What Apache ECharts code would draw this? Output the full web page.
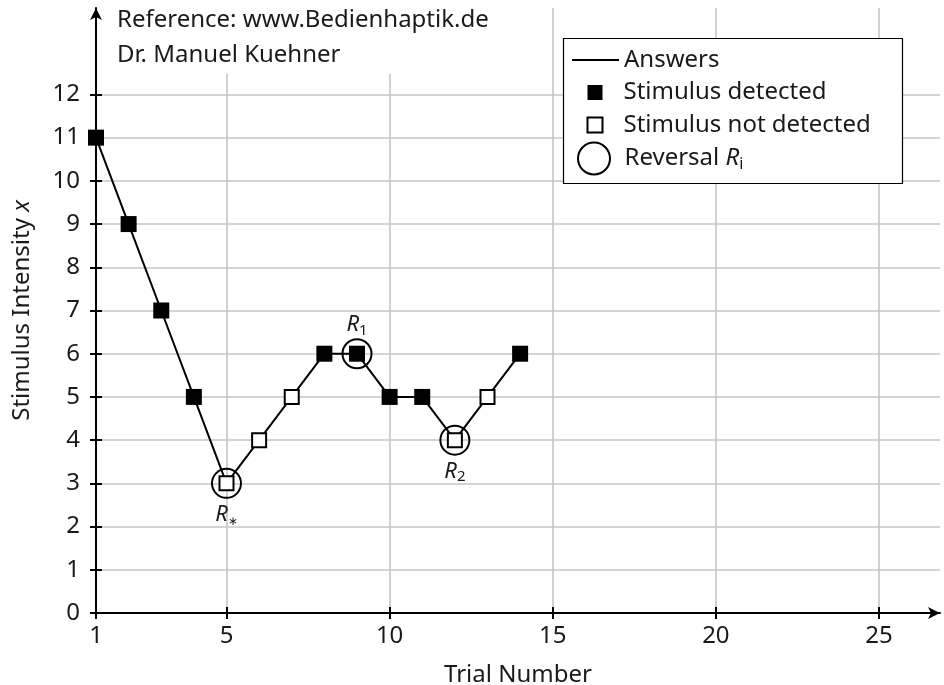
<!DOCTYPE html>
<html>
<head>
<meta charset="utf-8">
<script src="https://cdn.jsdelivr.net/npm/echarts@6/dist/echarts.min.js"></script>
<style>
  html, body { margin: 0; padding: 0; background: #fff; }
  #chart { width: 944px; height: 685px; }
</style>
</head>
<body>
<div id="chart"></div>
<script>
// staircase run: trial number, stimulus intensity, answer (1 = detected)
var trials = [1, 2, 3, 4, 5, 6, 7, 8, 9, 10, 11, 12, 13, 14];
var intensity = [11, 9, 7, 5, 3, 4, 5, 6, 6, 5, 5, 4, 5, 6];
var detected = [1, 1, 1, 1, 0, 0, 0, 1, 1, 1, 1, 0, 0, 1];
// reversals
var reversalTrials = [5, 9, 12];
var reversalIndex = ['∗', '1', '2'];
var reversalBelow = [true, false, true];
// ticks
var xTicks = [1, 5, 10, 15, 20, 25];
var yTicks = [0, 1, 2, 3, 4, 5, 6, 7, 8, 9, 10, 11, 12];

var FONT = 'Noto Sans';
var FS = 24;
var TXT = '#1a1a1a';

var lineData = trials.map(function (t, i) { return [t, intensity[i]]; });
var detData = [], notData = [];
trials.forEach(function (t, i) {
  (detected[i] ? detData : notData).push([t, intensity[i]]);
});
var revData = reversalTrials.map(function (t, k) {
  return {
    value: [t, intensity[trials.indexOf(t)]],
    label: {
      position: reversalBelow[k] ? 'bottom' : 'top',
      distance: reversalBelow[k] ? 3 : 0,
      formatter: '{r|R}{' + (reversalIndex[k] === '∗' ? 'a' : 's') + '|' + reversalIndex[k] + '}'
    }
  };
});

var subRich = {
  r: { fontFamily: FONT, fontSize: 22, fontStyle: 'italic', color: TXT, lineHeight: 26 },
  s: { fontFamily: FONT, fontSize: 15, color: TXT, lineHeight: 16, verticalAlign: 'bottom' },
  a: { fontFamily: FONT, fontSize: 12, color: TXT, lineHeight: 14, verticalAlign: 'bottom' },
  n: { fontFamily: FONT, fontSize: FS, color: TXT, lineHeight: 28, padding: [0, 0, 0, 3] },
  i: { fontFamily: FONT, fontSize: FS, fontStyle: 'italic', color: TXT, lineHeight: 28 },
  ls: { fontFamily: FONT, fontSize: 16, color: TXT, lineHeight: 18, verticalAlign: 'bottom' }
};
var nameRich = {
  n: { fontFamily: FONT, fontSize: FS, color: TXT, lineHeight: 28 },
  i: { fontFamily: FONT, fontSize: FS, fontStyle: 'italic', color: TXT, lineHeight: 28 }
};

var legendBase = {
  orient: 'vertical',
  left: 572,
  padding: 0,
  itemWidth: 45,
  z: 5,
  selectedMode: false,
  textStyle: { fontFamily: FONT, fontSize: FS, color: TXT, lineHeight: 24 }
};

var myChart = echarts.init(document.getElementById('chart'));
var option = {
  animation: false,
  backgroundColor: '#fff',
  textStyle: { fontFamily: FONT },
  title: {
    text: 'Reference: www.Bedienhaptik.de\nDr. Manuel Kuehner',
    left: 109,
    top: 0,
    padding: [3, 8, 1, 8],
    backgroundColor: '#fff',
    textStyle: { fontFamily: FONT, fontSize: FS, fontWeight: 'normal', color: TXT, lineHeight: 35 }
  },
  graphic: [{
    type: 'rect',
    z: 3,
    shape: { x: 563.5, y: 38.5, width: 339, height: 145 },
    style: { fill: '#fff', stroke: '#000', lineWidth: 1.2 }
  }],
  legend: [
    Object.assign({}, legendBase, {
      top: 48,
      itemWidth: 47,
      itemHeight: 2,
      icon: 'rect',
      itemStyle: { color: '#000', borderWidth: 0 },
      data: ['Answers']
    }),
    Object.assign({}, legendBase, {
      left: 586.5,
      top: 80.5,
      itemWidth: 15,
      itemHeight: 15,
      itemGap: 8.5,
      textStyle: {
        fontFamily: FONT, fontSize: FS, color: TXT, lineHeight: 24,
        rich: { t: { fontFamily: FONT, fontSize: FS, color: TXT, lineHeight: 24, padding: [0, 0, 0, 16] } }
      },
      formatter: function (name) { return '{t|' + name + '}'; },
      data: ['Stimulus detected', 'Stimulus not detected']
    }),
    Object.assign({}, legendBase, {
      left: 577,
      top: 141.5,
      itemHeight: 32,
      textStyle: { fontFamily: FONT, fontSize: FS, color: TXT, rich: subRich },
      formatter: function () { return '{n|Reversal }{i|R}{ls|i}'; },
      data: ['Reversal']
    })
  ],
  grid: { left: 96, right: 4, top: 8, bottom: 72, outerBoundsMode: 'none', containLabel: false },
  xAxis: [{
    type: 'value',
    min: 1,
    max: 26.87,
    name: 'Trial Number',
    nameLocation: 'middle',
    nameGap: 50,
    nameTextStyle: { fontFamily: FONT, fontSize: FS, color: TXT },
    axisLine: { lineStyle: { color: '#000', width: 2 }, symbol: ['none', 'arrow'], symbolSize: [9, 12] },
    axisTick: { customValues: xTicks, length: 6, lineStyle: { color: '#000', width: 2 } },
    axisLabel: { customValues: xTicks, margin: 11, fontFamily: FONT, fontSize: FS, color: TXT },
    splitLine: { show: true, lineStyle: { color: '#c6c6c6', width: 1.6 } }
  }, {
    type: 'value',
    min: 1,
    max: 26.87,
    position: 'bottom',
    axisLine: { show: false },
    axisTick: { customValues: xTicks, inside: true, length: 6, lineStyle: { color: '#000', width: 2 } },
    axisLabel: { show: false },
    splitLine: { show: false }
  }],
  yAxis: [{
    type: 'value',
    min: 0,
    max: 14,
    name: '{n|Stimulus Intensity }{i|x}',
    nameLocation: 'middle',
    nameRotate: 90,
    nameGap: 60,
    nameTextStyle: { fontFamily: FONT, fontSize: FS, color: TXT, rich: nameRich },
    axisLine: { lineStyle: { color: '#000', width: 2 }, symbol: ['none', 'arrow'], symbolSize: [9, 12] },
    axisTick: { customValues: yTicks, length: 6, lineStyle: { color: '#000', width: 2 } },
    axisLabel: { customValues: yTicks, margin: 16, fontFamily: FONT, fontSize: FS, color: TXT },
    splitLine: { show: true, lineStyle: { color: '#c6c6c6', width: 1.6 } }
  }, {
    type: 'value',
    min: 0,
    max: 14,
    position: 'left',
    axisLine: { show: false },
    axisTick: { customValues: yTicks, inside: true, length: 6, lineStyle: { color: '#000', width: 2 } },
    axisLabel: { show: false },
    splitLine: { show: false }
  }],
  series: [{
    name: 'Answers',
    type: 'line',
    data: lineData,
    symbol: 'none',
    showSymbol: false,
    silent: true,
    lineStyle: { color: '#000', width: 2 },
    itemStyle: { color: '#000' },
    z: 2
  }, {
    name: 'Stimulus detected',
    type: 'scatter',
    data: detData,
    symbol: 'rect',
    symbolSize: 16,
    silent: true,
    itemStyle: { color: '#000', opacity: 1 },
    z: 3
  }, {
    name: 'Stimulus not detected',
    type: 'scatter',
    data: notData,
    symbol: 'rect',
    symbolSize: 14,
    silent: true,
    itemStyle: { color: '#fff', borderColor: '#000', borderWidth: 2, opacity: 1 },
    z: 3
  }, {
    name: 'Reversal',
    type: 'scatter',
    data: revData,
    symbol: 'circle',
    symbolSize: 29,
    silent: true,
    itemStyle: { color: 'rgba(0,0,0,0)', borderColor: '#000', borderWidth: 2, opacity: 1 },
    label: { show: true, color: TXT, rich: subRich },
    z: 4
  }]
};
myChart.setOption(option);
</script>
</body>
</html>
